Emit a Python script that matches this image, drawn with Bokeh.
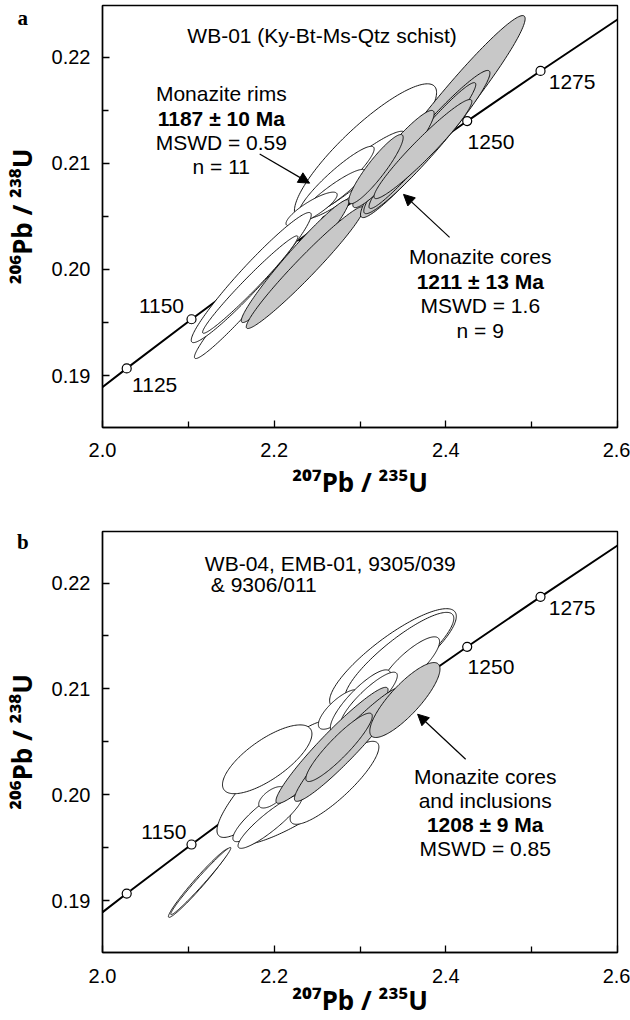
import numpy as np
from bokeh.plotting import figure
from bokeh.models import (Range1d, FixedTicker, Label, Arrow, NormalHead,
                          PrintfTickFormatter)
from bokeh.layouts import column
from bokeh.embed import file_html
from bokeh.resources import INLINE

# ---------------- data ----------------
# concordia (age in Ma, 207Pb/235U, 206Pb/238U)
conc_age = [1100, 1125, 1150, 1175, 1200, 1225, 1250, 1275, 1300, 1325]
conc_x = [1.9545, 2.0282, 2.1037, 2.1810, 2.2603, 2.3416, 2.4249, 2.5103, 2.5978, 2.6874]
conc_y = [0.18605, 0.19067, 0.19530, 0.19994, 0.20460, 0.20928, 0.21398, 0.21870, 0.22343, 0.22819]
marker_ages = [1125, 1150, 1175, 1200, 1225, 1250, 1275]

# panel a: monazite rims (x, y, half-extent x, half-extent y, error correlation)
a_rim_x = [2.3064, 2.2919, 2.2727, 2.2686, 2.2436, 2.1686, 2.1733, 2.1721]
a_rim_y = [0.21110, 0.20898, 0.20837, 0.20714, 0.20568, 0.19715, 0.19923, 0.19857]
a_rim_ex = [0.0828, 0.0607, 0.0438, 0.0372, 0.0298, 0.0615, 0.0699, 0.0555]
a_rim_ey = [0.00639, 0.00404, 0.00323, 0.00228, 0.00160, 0.00555, 0.00613, 0.00459]
a_rim_rho = [0.871, 0.935, 0.922, 0.915, 0.846, 0.974, 0.963, 0.979]

# panel a: monazite cores
a_core_x = [2.2244, 2.2360, 2.3965, 2.3779, 2.3727, 2.3390, 2.3186, 2.3733]
a_core_y = [0.20078, 0.20017, 0.21440, 0.21200, 0.21167, 0.21040, 0.20945, 0.21134]
a_core_ex = [0.0627, 0.0685, 0.0959, 0.0735, 0.0622, 0.0474, 0.0317, 0.0570]
a_core_ey = [0.00579, 0.00574, 0.00952, 0.00675, 0.00593, 0.00458, 0.00326, 0.00467]
a_core_rho = [0.970, 0.972, 0.969, 0.963, 0.970, 0.938, 0.913, 0.959]

# panel b: other analyses (white)
b_rim_x = [2.3384, 2.3459, 2.3581, 2.2000, 2.1919, 2.2762, 2.3006, 2.3105,
           2.2250, 2.2703, 2.1866, 2.1953, 2.1971, 2.1119, 2.1145]
b_rim_y = [0.21287, 0.21296, 0.21230, 0.20146, 0.20335, 0.20806, 0.20886, 0.20900,
           0.19863, 0.20113, 0.19802, 0.19746, 0.19976, 0.19166, 0.19185]
b_rim_ex = [0.0738, 0.0634, 0.0346, 0.0666, 0.0521, 0.0247, 0.0351, 0.0330,
            0.0663, 0.0517, 0.0347, 0.0374, 0.0151, 0.0351, 0.0350]
b_rim_ey = [0.00471, 0.00427, 0.00262, 0.00549, 0.00325, 0.00187, 0.00294, 0.00258,
            0.00331, 0.00392, 0.00245, 0.00252, 0.00101, 0.00324, 0.00317]
b_rim_rho = [0.845, 0.868, 0.826, 0.880, 0.736, 0.762, 0.847, 0.872,
             0.880, 0.861, 0.870, 0.905, 0.644, 0.976, 0.984]

# panel b: monazite cores and inclusions (grey)
b_core_x = [2.2674, 2.2863, 2.3523, 2.2756]
b_core_y = [0.20467, 0.20476, 0.20895, 0.20448]
b_core_ex = [0.0653, 0.0627, 0.0409, 0.0387]
b_core_ey = [0.00548, 0.00538, 0.00354, 0.00323]
b_core_rho = [0.956, 0.953, 0.829, 0.912]

x_ticks = [2.0, 2.2, 2.4, 2.6]
x_minor = [2.1, 2.3, 2.5]
y_ticks = [0.19, 0.20, 0.21, 0.22]
y_minor = [0.195, 0.205, 0.215]

FONT = "Liberation Sans"
TITLE_FONT = "Noto Sans"
GREY = "#c8c8c8"


def ellipses(xs, ys, exs, eys, rhos, n=160):
    t = np.linspace(0, 2 * np.pi, n)
    out_x, out_y = [], []
    for cx, cy, ex, ey, r in zip(xs, ys, exs, eys, rhos):
        out_x.append((cx + ex * np.cos(t)).tolist())
        out_y.append((cy + ey * (r * np.cos(t) + np.sqrt(1 - r * r) * np.sin(t))).tolist())
    return out_x, out_y


def make_fig(height, border_bottom, lab_standoff, title_standoff):
    p = figure(width=630, height=height, x_range=Range1d(2.0, 2.6),
               y_range=Range1d(0.1851, 0.22487), output_backend="svg",
               toolbar_location=None, min_border_left=100, min_border_right=13,
               min_border_top=5, min_border_bottom=border_bottom)
    p.xgrid.visible = False
    p.ygrid.visible = False
    p.outline_line_color = "black"
    p.outline_line_width = 1.4
    p.background_fill_color = "white"
    p.border_fill_color = "white"
    p.xaxis.ticker = FixedTicker(ticks=x_ticks, minor_ticks=x_minor)
    p.yaxis.ticker = FixedTicker(ticks=y_ticks, minor_ticks=y_minor)
    p.xaxis.formatter = PrintfTickFormatter(format="%.1f")
    p.yaxis.formatter = PrintfTickFormatter(format="%.2f")
    for ax in (p.xaxis, p.yaxis):
        ax.major_tick_in = 7
        ax.major_tick_out = 0
        ax.minor_tick_in = 6
        ax.minor_tick_out = 0
        ax.axis_line_width = 1.4
        ax.major_tick_line_width = 1.3
        ax.minor_tick_line_width = 1.3
        ax.major_label_text_font = FONT
        ax.major_label_text_font_size = "20px"
        ax.major_label_text_color = "black"
        ax.axis_label_text_font = TITLE_FONT
        ax.axis_label_text_font_style = "bold"
        ax.axis_label_text_font_size = "26px"
        ax.axis_label_text_color = "black"
    p.xaxis.major_label_standoff = lab_standoff
    p.yaxis.major_label_standoff = 12
    p.xaxis.axis_label_standoff = title_standoff
    p.yaxis.axis_label_standoff = 9
    p.xaxis.axis_label = "²⁰⁷Pb / ²³⁵U"
    p.yaxis.axis_label = "²⁰⁶Pb / ²³⁸U"
    return p


def draw_concordia(p):
    p.line(conc_x, conc_y, line_width=2, line_color="black")
    mx = [conc_x[conc_age.index(a)] for a in marker_ages]
    my = [conc_y[conc_age.index(a)] for a in marker_ages]
    p.scatter(mx, my, size=9, fill_color="white", line_color="black", line_width=1.2)


def txt(p, x, y, s, bold=False, align="center", size="21px", font=FONT):
    p.add_layout(Label(x=x, y=y, text=s, text_align=align, text_baseline="middle",
                       text_font=font, text_font_size=size,
                       text_font_style="bold" if bold else "normal",
                       text_color="black"))


def panel_letter(p, s, x, y):
    # placed in the (narrow) right side panel so that it is not clipped to the frame;
    # its position is still given in data units
    p.add_layout(Label(x=x, y=y, text=s, text_align="center", text_baseline="middle",
                       text_font="Liberation Serif", text_font_size="21px",
                       text_font_style="bold", text_color="black"), "right")


def arrow(p, x0, y0, x1, y1):
    p.add_layout(Arrow(end=NormalHead(size=11, fill_color="black", line_color="black"),
                       x_start=x0, y_start=y0, x_end=x1, y_end=y1,
                       line_width=1.2, line_color="black"))


# ---------------- panel a ----------------
pa = make_fig(526, 99, 15, 4)
draw_concordia(pa)
ex_, ey_ = ellipses(a_rim_x, a_rim_y, a_rim_ex, a_rim_ey, a_rim_rho)
pa.patches(ex_, ey_, fill_color="white", line_color="black", line_width=0.9)
ex_, ey_ = ellipses(a_core_x, a_core_y, a_core_ex, a_core_ey, a_core_rho)
pa.patches(ex_, ey_, fill_color=GREY, line_color="black", line_width=0.9)

txt(pa, 2.0608, 0.18910, "1125")
txt(pa, 2.0687, 0.19654, "1150")
txt(pa, 2.4526, 0.21203, "1250")
txt(pa, 2.5471, 0.21768, "1275")
txt(pa, 2.2558, 0.22208, "WB-01 (Ky-Bt-Ms-Qtz schist)")
txt(pa, 2.1384, 0.21659, "Monazite rims")
txt(pa, 2.1384, 0.21423, "1187 ± 10 Ma", bold=True)
txt(pa, 2.1384, 0.21193, "MSWD = 0.59")
txt(pa, 2.1384, 0.20967, "n = 11")
txt(pa, 2.4401, 0.20119, "Monazite cores")
txt(pa, 2.4401, 0.19890, "1211 ± 13 Ma", bold=True)
txt(pa, 2.4401, 0.19664, "MSWD = 1.6")
txt(pa, 2.4401, 0.19428, "n = 9")
arrow(pa, 2.1831, 0.21087, 2.2413, 0.20813)
arrow(pa, 2.4044, 0.20302, 2.3507, 0.20707)
panel_letter(pa, "a", 1.9072, 0.22365)

# ---------------- panel b ----------------
pb = make_fig(494, 67, 16, -4)
draw_concordia(pb)
ex_, ey_ = ellipses(b_rim_x, b_rim_y, b_rim_ex, b_rim_ey, b_rim_rho)
pb.patches(ex_, ey_, fill_color="white", line_color="black", line_width=0.9)
ex_, ey_ = ellipses(b_core_x, b_core_y, b_core_ex, b_core_ey, b_core_rho)
pb.patches(ex_, ey_, fill_color=GREY, line_color="black", line_width=0.9)

txt(pb, 2.0715, 0.19645, "1150")
txt(pb, 2.4526, 0.21209, "1250")
txt(pb, 2.5471, 0.21765, "1275")
txt(pb, 2.1192, 0.22189, "WB-04, EMB-01, 9305/039", align="left")
txt(pb, 2.1262, 0.21986, "& 9306/011", align="left")
txt(pb, 2.4459, 0.20170, "Monazite cores")
txt(pb, 2.4459, 0.19943, "and inclusions")
txt(pb, 2.4459, 0.19717, "1208 ± 9 Ma", bold=True)
txt(pb, 2.4459, 0.19488, "MSWD = 0.85")
arrow(pb, 2.4231, 0.20336, 2.3671, 0.20761)
panel_letter(pb, "b", 1.9072, 0.22386)

layout = column(pa, pb)
open("out.html", "w").write(file_html(layout, INLINE))
